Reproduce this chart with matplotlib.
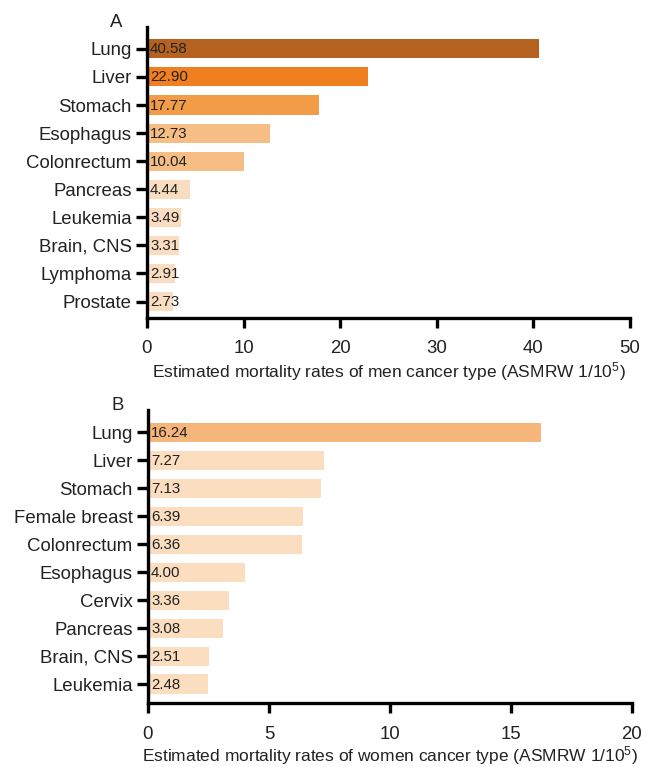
import matplotlib
matplotlib.use("Agg")
import matplotlib.pyplot as plt
from matplotlib.transforms import offset_copy

plt.rcParams['font.family'] = ['Liberation Sans', 'DejaVu Sans']
plt.rcParams['mathtext.fontset'] = 'custom'
plt.rcParams['mathtext.rm'] = 'Liberation Sans'
plt.rcParams['mathtext.it'] = 'Liberation Sans'
plt.rcParams['mathtext.bf'] = 'Liberation Sans'

men_types = ["Lung", "Liver", "Stomach", "Esophagus", "Colonrectum",
             "Pancreas", "Leukemia", "Brain, CNS", "Lymphoma", "Prostate"]
men_rates = [40.58, 22.90, 17.77, 12.73, 10.04, 4.44, 3.49, 3.31, 2.91, 2.73]
men_colors = ["#B5611F", "#EF7F1F", "#F29C47", "#F6BD85", "#F6BD85",
              "#FADDC1", "#FADDC1", "#FADDC1", "#FADDC1", "#FADDC1"]

women_types = ["Lung", "Liver", "Stomach", "Female breast", "Colonrectum",
               "Esophagus", "Cervix", "Pancreas", "Brain, CNS", "Leukemia"]
women_rates = [16.24, 7.27, 7.13, 6.39, 6.36, 4.00, 3.36, 3.08, 2.51, 2.48]
women_colors = ["#F5B57B"] + ["#FBDDC0"] * 9

men_ticks = [0, 10, 20, 30, 40, 50]
women_ticks = [0, 5, 10, 15, 20]

fig = plt.figure(figsize=(6.49, 7.67), dpi=100)


def panel(rect, cats, vals, colors, ticks, xlabel, letter, ylim, labelpad):
    ax = fig.add_axes(rect)
    y = list(range(len(cats)))
    ax.barh(y, vals, height=0.68, color=colors, zorder=1)
    ax.set_xlim(ticks[0], ticks[-1])
    ax.set_ylim(*ylim)
    ax.set_yticks(y)
    ax.set_yticklabels(cats, fontsize=13.4, color="#222222")
    ax.set_xticks(ticks)
    ax.set_xticklabels([str(t) for t in ticks], fontsize=13.4, color="#222222")
    ax.set_xlabel(xlabel, fontsize=12.5, color="#222222", labelpad=labelpad)
    for s in ("top", "right"):
        ax.spines[s].set_visible(False)
    for s in ("left", "bottom"):
        ax.spines[s].set_linewidth(2.4)
        ax.spines[s].set_capstyle("projecting")
    ax.tick_params(axis="y", length=8, width=2.4, color="black", pad=3)
    ax.tick_params(axis="x", length=7, width=2.4, color="black", pad=9.5)
    tr = offset_copy(ax.transData, fig=fig, x=3, y=-0.5, units="dots")
    for yi, v in zip(y, vals):
        ax.text(0, yi, f"{v:.2f}", transform=tr, va="center", ha="left",
                fontsize=10.8, color="#222222", zorder=3)
    ax.text(-0.063, 1.015, letter, transform=ax.transAxes, ha="center",
            va="center", fontsize=13.4, color="#222222")
    return ax


panel([0.2265, 0.586, 0.7442, 0.3785], men_types, men_rates, men_colors,
      men_ticks, "Estimated mortality rates of men cancer type (ASMRW 1/10$^5$)",
      "A", (9.57, -0.77), 2)
panel([0.228, 0.0834, 0.7458, 0.382], women_types, women_rates, women_colors,
      women_ticks, "Estimated mortality rates of women cancer type (ASMRW 1/10$^5$)",
      "B", (9.68, -0.79), 1)

fig.savefig("out.png", dpi=100)
